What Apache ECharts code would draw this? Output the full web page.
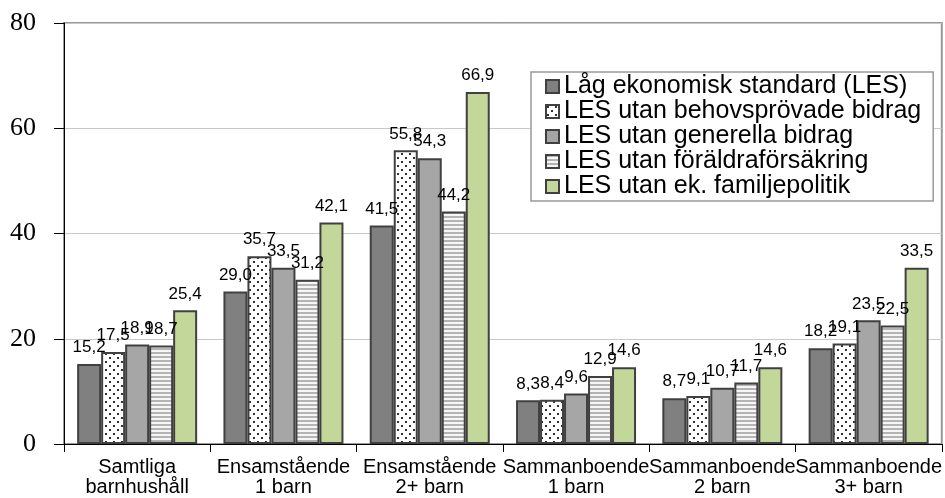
<!DOCTYPE html>
<html>
<head>
<meta charset="utf-8">
<script src="https://cdn.jsdelivr.net/npm/echarts@6/dist/echarts.min.js"></script>
<style>
  html, body { margin: 0; padding: 0; background: #fff; }
  #chart { width: 945px; height: 498px; }
</style>
</head>
<body>
<div id="chart"></div>
<script>
var categories = [
  "Samtliga\nbarnhushåll",
  "Ensamstående\n1 barn",
  "Ensamstående\n2+ barn",
  "Sammanboende\n1 barn",
  "Sammanboende\n2 barn",
  "Sammanboende\n3+ barn"
];
var seriesNames = [
  "Låg ekonomisk standard (LES)",
  "LES utan behovsprövade bidrag",
  "LES utan generella bidrag",
  "LES utan föräldraförsäkring",
  "LES utan ek. familjepolitik"
];
var les = [15.2, 29.0, 41.5, 8.3, 8.7, 18.2];
var utanBehov = [17.5, 35.7, 55.8, 8.4, 9.1, 19.1];
var utanGenerella = [18.9, 33.5, 54.3, 9.6, 10.7, 23.5];
var utanForaldra = [18.7, 31.2, 44.2, 12.9, 11.7, 22.5];
var utanFamilj = [25.4, 42.1, 66.9, 14.6, 14.6, 33.5];
var yTicks = [0, 20, 40, 60, 80];

// fyllnadsmönster som i Excel
function dotPattern() {
  var c = document.createElement("canvas");
  c.width = 8; c.height = 8;
  var ctx = c.getContext("2d");
  ctx.fillStyle = "#ffffff";
  ctx.fillRect(0, 0, 8, 8);
  ctx.fillStyle = "#333333";
  ctx.fillRect(1, 1, 2, 2);
  ctx.fillRect(5, 5, 2, 2);
  return c;
}
function stripePattern() {
  var c = document.createElement("canvas");
  c.width = 4; c.height = 4;
  var ctx = c.getContext("2d");
  ctx.fillStyle = "#f6f6f6";
  ctx.fillRect(0, 0, 4, 4);
  ctx.fillStyle = "#b4b4b4";
  ctx.fillRect(0, 0, 4, 2);
  return c;
}

var fills = [
  "#808080",
  { image: dotPattern(), repeat: "repeat" },
  "#a6a6a6",
  { image: stripePattern(), repeat: "repeat" },
  "#c4d79b"
];
var values = [les, utanBehov, utanGenerella, utanForaldra, utanFamilj];

var series = values.map(function(data, i) {
  return {
    name: seriesNames[i],
    type: "bar",
    data: data,
    barWidth: 24,
    barGap: "0%",
    itemStyle: {
      color: fills[i],
      borderColor: "#404040",
      borderWidth: 2
    },
    label: {
      show: true,
      position: "top",
      distance: 8,
      color: "#000",
      fontFamily: "Liberation Sans",
      fontSize: 17,
      formatter: function(p) {
        return p.value.toFixed(1).replace(".", ",");
      }
    }
  };
});

var chart = echarts.init(document.getElementById("chart"));
chart.setOption({
  animation: false,
  grid: {
    left: 64,
    right: 3,
    top: 23,
    bottom: 54,
    show: true,
    borderColor: "#999999",
    borderWidth: 2
  },
  legend: {
    orient: "vertical",
    left: 531,
    top: 72,
    padding: [2, 12, 2, 14],
    itemGap: 0,
    itemWidth: 13,
    itemHeight: 13,
    icon: "rect",
    backgroundColor: "#fff",
    borderColor: "#999999",
    borderWidth: 1.5,
    textStyle: {
      fontFamily: "Liberation Sans",
      fontSize: 25,
      lineHeight: 23.5,
      color: "#000"
    },
    data: seriesNames
  },
  xAxis: {
    type: "category",
    data: categories,
    axisLine: { lineStyle: { color: "#000", width: 1 } },
    axisTick: { show: true, length: 8, lineStyle: { color: "#000" } },
    axisLabel: {
      color: "#000",
      fontFamily: "Liberation Sans",
      fontSize: 20,
      lineHeight: 20,
      margin: 13,
      interval: 0
    }
  },
  yAxis: {
    type: "value",
    min: yTicks[0],
    max: yTicks[yTicks.length - 1],
    interval: 20,
    axisLine: { show: true, lineStyle: { color: "#000", width: 1 } },
    axisTick: { show: true, length: 10, lineStyle: { color: "#000" } },
    axisLabel: {
      color: "#000",
      fontFamily: "Liberation Serif",
      fontSize: 26,
      margin: 28
    },
    splitLine: { lineStyle: { color: "#c8c8c8", width: 1 } }
  },
  series: series
});
</script>
</body>
</html>
